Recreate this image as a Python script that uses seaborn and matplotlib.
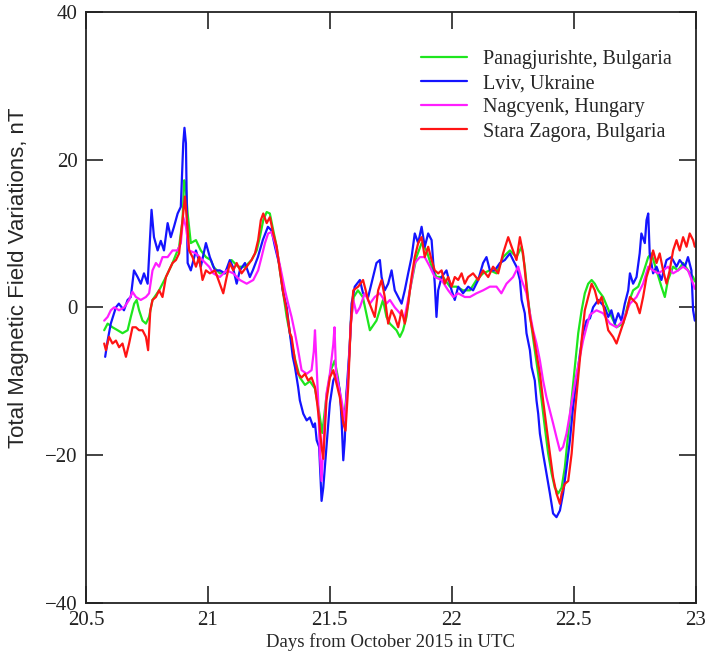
import matplotlib
matplotlib.use('Agg')
import matplotlib.pyplot as plt
import pandas as pd
import seaborn as sns

# Stations and their trace colours (legend order)
stations = ['Panagjurishte, Bulgaria', 'Lviv, Ukraine', 'Nagcyenk, Hungary', 'Stara Zagora, Bulgaria']
colors = ['#1ee61e', '#1414ff', '#ff1eff', '#ff1414']

# Panagjurishte (green)
panag_day = [20.575, 20.589, 20.609, 20.630, 20.650, 20.671, 20.684, 20.698, 20.708, 20.718,
             20.732, 20.746, 20.759, 20.773, 20.800, 20.828, 20.855, 20.882, 20.896, 20.903,
             20.910, 20.917, 20.930, 20.951, 20.971, 20.992, 21.012, 21.022, 21.049, 21.070,
             21.097, 21.124, 21.152, 21.179, 21.200, 21.213, 21.227, 21.241, 21.254, 21.268,
             21.282, 21.295, 21.309, 21.323, 21.336, 21.357, 21.377, 21.398, 21.418, 21.439,
             21.455, 21.469, 21.486, 21.504, 21.520, 21.533, 21.548, 21.559, 21.575, 21.586,
             21.598, 21.615, 21.635, 21.664, 21.691, 21.718, 21.732, 21.746, 21.773, 21.787,
             21.800, 21.814, 21.828, 21.855, 21.876, 21.896, 21.917, 21.937, 21.964, 21.992,
             22.019, 22.046, 22.074, 22.101, 22.128, 22.156, 22.183, 22.210, 22.238, 22.265,
             22.286, 22.299, 22.313, 22.327, 22.340, 22.354, 22.368, 22.381, 22.395, 22.409,
             22.422, 22.436, 22.450, 22.463, 22.477, 22.491, 22.504, 22.518, 22.532, 22.545,
             22.559, 22.573, 22.586, 22.600, 22.620, 22.648, 22.675, 22.702, 22.723, 22.743,
             22.764, 22.784, 22.805, 22.818, 22.839, 22.859, 22.873, 22.886, 22.907, 22.927,
             22.948, 22.968, 22.989, 22.996]
panag_nt = [-3.1, -2.2, -2.7, -3.1, -3.5, -3.1, -1.3, 0.5, 1.0, -0.4,
            -1.8, -2.2, -1.3, 1.0, 2.3, 4.1, 6.0, 8.2, 11.8, 17.2,
            15.9, 12.7, 8.7, 9.1, 7.7, 6.8, 6.4, 5.5, 4.6, 4.6,
            6.4, 5.5, 5.5, 6.4, 7.7, 9.5, 11.8, 12.9, 12.7, 10.4,
            8.2, 5.0, 1.9, -1.3, -3.5, -7.0, -9.5, -10.5, -10.0, -11.0,
            -14.0, -17.0, -12.0, -8.5, -7.2, -9.5, -13.5, -15.0, -9.5, -2.0,
            1.4, 2.3, 1.4, -3.1, -1.8, 1.0, -1.3, -2.2, -3.1, -4.0,
            -3.1, -1.3, 2.3, 6.8, 8.7, 7.7, 5.5, 4.1, 4.1, 2.8,
            2.8, 2.3, 2.3, 3.7, 4.6, 5.0, 4.6, 6.8, 7.7, 6.8,
            8.2, 5.5, 1.0, -2.7, -5.8, -9.0, -12.6, -16.2, -19.8, -22.5,
            -24.4, -25.2, -24.4, -21.7, -17.1, -12.6, -8.1, -3.5, -0.4, 1.9,
            3.2, 3.7, 3.2, 2.3, 1.4, -0.8, -2.7, -2.2, 0.5, 2.3,
            2.8, 4.6, 6.8, 7.3, 5.0, 2.8, 1.4, 3.7, 5.5, 5.0,
            6.0, 5.0, 4.1, 3.5]

# Lviv (blue)
lviv_day = [20.579, 20.589, 20.602, 20.623, 20.635, 20.656, 20.671, 20.684, 20.697, 20.712,
            20.725, 20.738, 20.753, 20.758, 20.769, 20.779, 20.794, 20.807, 20.820, 20.835,
            20.848, 20.861, 20.876, 20.889, 20.899, 20.904, 20.910, 20.917, 20.930, 20.951,
            20.971, 20.992, 21.008, 21.029, 21.049, 21.070, 21.090, 21.102, 21.118, 21.131,
            21.152, 21.172, 21.184, 21.205, 21.225, 21.246, 21.261, 21.275, 21.295, 21.307,
            21.323, 21.336, 21.348, 21.357, 21.370, 21.377, 21.391, 21.405, 21.418, 21.432,
            21.439, 21.446, 21.456, 21.466, 21.473, 21.486, 21.500, 21.514, 21.527, 21.541,
            21.548, 21.555, 21.561, 21.568, 21.582, 21.589, 21.602, 21.623, 21.636, 21.657,
            21.677, 21.691, 21.705, 21.712, 21.725, 21.739, 21.753, 21.766, 21.780, 21.794,
            21.807, 21.821, 21.835, 21.848, 21.862, 21.876, 21.889, 21.903, 21.917, 21.930,
            21.937, 21.944, 21.958, 21.978, 21.999, 22.012, 22.026, 22.046, 22.067, 22.087,
            22.108, 22.128, 22.142, 22.156, 22.176, 22.197, 22.217, 22.238, 22.251, 22.265,
            22.279, 22.286, 22.299, 22.306, 22.320, 22.327, 22.340, 22.347, 22.354, 22.361,
            22.374, 22.388, 22.402, 22.415, 22.429, 22.443, 22.456, 22.470, 22.484, 22.497,
            22.511, 22.525, 22.538, 22.552, 22.566, 22.579, 22.600, 22.614, 22.627, 22.641,
            22.654, 22.668, 22.682, 22.695, 22.709, 22.723, 22.730, 22.743, 22.757, 22.770,
            22.777, 22.791, 22.798, 22.805, 22.811, 22.825, 22.839, 22.859, 22.880, 22.900,
            22.921, 22.934, 22.955, 22.968, 22.982, 22.989, 22.996]
lviv_nt = [-6.7, -4.5, -2.2, 0.0, 0.5, -0.4, 1.0, 1.4, 5.0, 4.1,
           3.2, 4.6, 3.2, 6.4, 13.2, 9.5, 7.7, 9.0, 7.7, 11.4,
           9.5, 10.9, 12.7, 13.6, 22.2, 24.3, 22.2, 6.0, 5.0, 7.7,
           5.5, 8.7, 6.8, 5.0, 5.0, 4.6, 6.4, 5.5, 3.2, 5.0,
           6.0, 4.1, 5.0, 6.8, 9.1, 10.9, 10.4, 8.2, 5.5, 2.3,
           0.0, -3.5, -6.7, -8.1, -10.8, -12.6, -14.4, -15.3, -14.9, -16.2,
           -15.7, -18.0, -18.9, -26.2, -24.4, -18.9, -13.0, -9.9, -9.0, -11.3,
           -15.3, -20.7, -18.0, -11.7, -4.9, 0.5, 2.8, 3.7, 1.9, 1.4,
           4.1, 6.0, 6.4, 4.1, 2.3, 3.2, 5.0, 2.3, 1.4, 0.5,
           2.3, 4.6, 6.8, 10.0, 8.7, 10.9, 8.2, 10.0, 9.1, 3.2,
           -1.3, 2.3, 4.1, 5.0, 2.3, 1.0, 2.8, 1.9, 2.8, 2.3,
           3.7, 6.0, 6.8, 5.0, 5.0, 6.0, 6.4, 7.3, 6.4, 5.5,
           3.7, 1.0, -0.8, -3.5, -5.8, -8.1, -9.9, -12.6, -14.4, -17.1,
           -19.8, -22.5, -25.2, -27.9, -28.4, -27.5, -25.2, -21.7, -18.0, -13.5,
           -9.9, -6.3, -3.5, -1.8, -1.5, 0.0, 1.0, 0.5, 0.0, -1.3,
           -0.4, -2.2, -0.8, -1.8, 0.5, 2.3, 4.6, 3.2, 4.1, 7.3,
           10.0, 8.7, 11.8, 12.7, 7.3, 4.6, 5.5, 3.7, 6.4, 6.8,
           5.5, 6.4, 5.5, 6.8, 5.0, -0.4, -1.8]

# Nagcyenk (magenta)
nagy_day = [20.575, 20.589, 20.602, 20.616, 20.636, 20.657, 20.677, 20.691, 20.705, 20.725,
            20.746, 20.759, 20.773, 20.787, 20.800, 20.814, 20.835, 20.855, 20.876, 20.889,
            20.899, 20.910, 20.923, 20.951, 20.978, 21.005, 21.022, 21.049, 21.077, 21.104,
            21.131, 21.159, 21.186, 21.206, 21.220, 21.234, 21.247, 21.261, 21.275, 21.288,
            21.302, 21.316, 21.329, 21.343, 21.357, 21.370, 21.384, 21.405, 21.425, 21.434,
            21.439, 21.446, 21.452, 21.459, 21.466, 21.473, 21.486, 21.500, 21.514, 21.519,
            21.525, 21.534, 21.548, 21.561, 21.575, 21.585, 21.596, 21.609, 21.623, 21.643,
            21.664, 21.684, 21.705, 21.732, 21.746, 21.766, 21.787, 21.807, 21.828, 21.848,
            21.869, 21.889, 21.910, 21.930, 21.958, 21.985, 22.006, 22.026, 22.053, 22.074,
            22.101, 22.128, 22.156, 22.183, 22.203, 22.224, 22.251, 22.272, 22.286, 22.306,
            22.320, 22.333, 22.347, 22.361, 22.374, 22.388, 22.402, 22.415, 22.429, 22.443,
            22.456, 22.470, 22.484, 22.497, 22.511, 22.525, 22.538, 22.552, 22.566, 22.593,
            22.620, 22.648, 22.675, 22.702, 22.730, 22.757, 22.784, 22.805, 22.825, 22.845,
            22.866, 22.886, 22.907, 22.927, 22.948, 22.968, 22.989, 22.996]
nagy_nt = [-1.8, -1.3, -0.4, 0.0, -0.4, 0.0, 1.0, 2.1, 1.4, 1.0,
           1.4, 1.9, 5.0, 6.0, 5.5, 6.8, 6.8, 7.7, 7.7, 8.7,
           12.2, 10.9, 7.7, 7.3, 6.4, 5.5, 4.6, 4.1, 5.0, 4.6,
           3.7, 3.2, 3.7, 5.0, 6.8, 8.7, 10.0, 10.2, 8.7, 6.8,
           4.6, 2.3, 0.5, -1.3, -3.5, -5.8, -8.5, -9.0, -8.5, -6.0,
           -3.1, -8.1, -12.6, -19.8, -23.5, -18.9, -11.7, -9.0, -5.0, -2.7,
           -8.5, -10.3, -12.6, -15.3, -9.5, -2.7, 1.0, -0.8, 0.0, 1.9,
           0.5, 1.4, 1.9, 0.5, 1.0, 0.0, -0.8, -1.3, 2.3, 6.0,
           6.8, 6.8, 5.5, 4.1, 3.7, 2.3, 1.4, 1.9, 1.4, 1.4,
           1.9, 2.3, 2.8, 2.8, 1.9, 3.2, 4.1, 5.5, 3.7, 1.9,
           -0.8, -3.1, -4.9, -7.2, -9.9, -12.2, -14.0, -15.7, -17.6, -19.4,
           -18.9, -17.1, -14.4, -11.7, -9.0, -6.7, -4.5, -2.7, -1.0, -0.4,
           -0.8, -2.2, -2.7, -1.8, 0.5, 1.4, 3.2, 5.5, 5.0, 4.6,
           5.0, 5.5, 4.6, 5.0, 5.5, 5.0, 3.2, 2.5]

# Stara Zagora (red)
zagora_day = [20.575, 20.582, 20.595, 20.609, 20.623, 20.636, 20.650, 20.664, 20.677, 20.691,
              20.705, 20.718, 20.732, 20.746, 20.755, 20.764, 20.773, 20.787, 20.800, 20.814,
              20.828, 20.841, 20.855, 20.869, 20.882, 20.896, 20.906, 20.914, 20.923, 20.937,
              20.951, 20.964, 20.978, 20.992, 21.008, 21.029, 21.049, 21.063, 21.077, 21.090,
              21.104, 21.118, 21.138, 21.159, 21.179, 21.193, 21.206, 21.217, 21.227, 21.241,
              21.254, 21.268, 21.282, 21.295, 21.309, 21.323, 21.336, 21.343, 21.357, 21.370,
              21.384, 21.398, 21.411, 21.425, 21.439, 21.448, 21.456, 21.466, 21.473, 21.486,
              21.500, 21.514, 21.527, 21.541, 21.555, 21.564, 21.575, 21.585, 21.596, 21.616,
              21.636, 21.657, 21.684, 21.698, 21.712, 21.725, 21.739, 21.753, 21.766, 21.780,
              21.794, 21.807, 21.821, 21.835, 21.848, 21.862, 21.876, 21.889, 21.903, 21.917,
              21.930, 21.944, 21.958, 21.971, 21.985, 21.999, 22.012, 22.026, 22.040, 22.053,
              22.067, 22.087, 22.108, 22.128, 22.149, 22.169, 22.190, 22.210, 22.231, 22.245,
              22.265, 22.279, 22.292, 22.306, 22.320, 22.333, 22.347, 22.361, 22.374, 22.388,
              22.402, 22.415, 22.429, 22.443, 22.450, 22.463, 22.477, 22.491, 22.504, 22.518,
              22.532, 22.545, 22.559, 22.573, 22.586, 22.600, 22.614, 22.627, 22.641, 22.661,
              22.675, 22.689, 22.702, 22.716, 22.730, 22.743, 22.757, 22.770, 22.784, 22.798,
              22.811, 22.825, 22.839, 22.852, 22.866, 22.880, 22.893, 22.907, 22.921, 22.934,
              22.948, 22.962, 22.975, 22.989, 22.996]
zagora_nt = [-4.9, -5.8, -4.0, -4.9, -4.5, -5.4, -4.9, -6.7, -4.9, -2.7,
             -2.7, -3.1, -3.1, -4.0, -5.8, -0.4, 1.0, 1.4, 2.3, 1.4,
             4.1, 5.0, 6.0, 6.4, 7.3, 11.8, 15.0, 11.8, 7.7, 6.8,
             5.5, 6.8, 3.7, 5.0, 4.6, 5.0, 3.2, 1.9, 4.1, 6.0,
             5.0, 6.0, 4.6, 5.5, 6.4, 7.3, 9.1, 11.8, 12.7, 11.4,
             12.2, 10.0, 8.2, 5.0, 1.9, -0.4, -3.5, -4.0, -7.2, -9.0,
             -9.5, -9.0, -9.9, -9.5, -10.8, -13.0, -15.3, -18.9, -20.5, -12.6,
             -9.5, -8.5, -10.3, -12.2, -15.7, -16.7, -10.8, -2.7, 2.3, 2.8,
             3.7, 1.0, -1.3, 2.3, 3.7, 1.4, -2.2, -0.4, -1.3, -2.7,
             -0.4, -2.2, 0.5, 4.1, 6.8, 8.7, 9.5, 6.8, 8.2, 6.4,
             5.0, 4.6, 5.0, 3.2, 4.1, 2.8, 4.1, 3.7, 4.6, 3.2,
             4.1, 4.6, 3.7, 5.0, 4.1, 5.5, 4.6, 7.3, 9.5, 8.2,
             6.4, 9.5, 7.3, 2.8, -1.3, -3.5, -6.3, -9.0, -12.6, -16.2,
             -19.8, -23.0, -25.2, -26.6, -25.2, -23.9, -23.5, -19.8, -14.4, -9.5,
             -4.5, -0.4, 1.4, 3.2, 2.3, 0.5, 1.4, -0.8, -3.1, -4.0,
             -4.9, -3.5, -2.2, -0.8, 1.4, 1.0, 0.5, -0.8, 1.4, 4.1,
             5.5, 7.7, 6.0, 7.3, 5.0, 3.2, 5.0, 7.7, 9.1, 7.7,
             9.5, 8.2, 10.0, 9.1, 8.2]

x_ticks = [20.5, 21, 21.5, 22, 22.5, 23]
x_tick_labels = ['20.5', '21', '21.5', '22', '22.5', '23']
y_ticks = [-40, -20, 0, 20, 40]
y_tick_labels = ['\u221240', '\u221220', '0', '20', '40']

# Build a long table for seaborn
series = [(panag_day, panag_nt), (lviv_day, lviv_nt), (nagy_day, nagy_nt), (zagora_day, zagora_nt)]
frames = []
for name, (d, v) in zip(stations, series):
    frames.append(pd.DataFrame({'day': d, 'nT': v, 'station': name}))
df = pd.concat(frames, ignore_index=True)

sns.set_style('ticks')
plt.rcParams['font.family'] = ['Liberation Serif', 'DejaVu Serif']

fig = plt.figure(figsize=(7.1, 6.56), dpi=100)
ax = fig.add_axes([0.121, 0.081, 0.859, 0.901])

sns.lineplot(data=df, x='day', y='nT', hue='station', hue_order=stations,
             palette=colors, estimator=None, sort=False, linewidth=1.6, ax=ax)

ax.set_xlim(20.5, 23)
ax.set_ylim(-40, 40)
ax.set_xticks(x_ticks)
ax.set_xticklabels(x_tick_labels)
ax.set_yticks(y_ticks)
ax.set_yticklabels(y_tick_labels)
ax.tick_params(direction='in', length=12, width=1.2, top=True, right=True,
               labelsize=15, colors='#222222', pad=6)
for s in ax.spines.values():
    s.set_linewidth(1.3)
    s.set_color('#222222')

ax.set_xlabel('Days from October 2015 in UTC', fontsize=13.5, labelpad=2)
ax.set_ylabel('Total Magnetic Field Variations, nT', fontsize=16,
              family=['Liberation Sans Narrow', 'Liberation Sans', 'DejaVu Sans'])
ax.yaxis.set_label_coords(-0.094, 0.55)

sns.move_legend(ax, 'upper left', bbox_to_anchor=(0.52, 0.966), title=None,
                frameon=False, fontsize=14.5, handlelength=2.3, labelspacing=0.25,
                handletextpad=0.75)

fig.savefig('out.png', dpi=100)
